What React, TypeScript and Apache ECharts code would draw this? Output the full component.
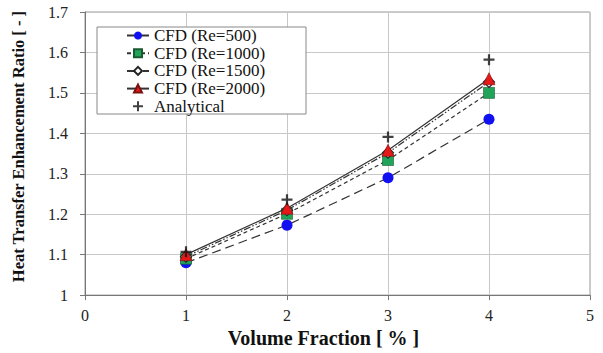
import React, { useEffect, useRef } from "react";
import * as echarts from "echarts";

const xValues = [1, 2, 3, 4];
const re500 = [1.08, 1.173, 1.29, 1.435];
const re1000 = [1.09, 1.201, 1.334, 1.5];
const re1500 = [1.095, 1.21, 1.352, 1.527];
const re2000 = [1.1, 1.215, 1.358, 1.535];
const analytical = [1.107, 1.236, 1.391, 1.582];
const seriesNames = ["CFD (Re=500)", "CFD (Re=1000)", "CFD (Re=1500)", "CFD (Re=2000)", "Analytical"];

const FONT = "'Liberation Serif', 'Times New Roman', serif";
const PLUS = "path://M4,0H6V4H10V6H6V10H4V6H0V4H4Z";

function pairs(vals: number[]) {
  return xValues.map((x, i) => [x, vals[i]]);
}

export default function App() {
  const ref = useRef<HTMLDivElement>(null);
  useEffect(() => {
    if (!ref.current) return;
    const chart = echarts.init(ref.current, undefined, { renderer: "svg" });
    const lineColor = "#333";
    chart.setOption({
      animation: false,
      backgroundColor: "#fff",
      grid: { left: 85, right: 13, top: 12, bottom: 51, show: true, borderColor: "#999", borderWidth: 1 },
      graphic: [
        {
          type: "rect",
          z: 3,
          shape: { x: 97, y: 27, width: 209, height: 87 },
          style: { fill: "#fff", stroke: "#888", lineWidth: 1 },
        },
      ],
      legend: {
        orient: "vertical",
        left: 126,
        top: 27,
        padding: 0,
        itemGap: 0.7,
        itemWidth: 22,
        itemHeight: 10,
        z: 5,
        data: seriesNames,
        textStyle: { fontFamily: FONT, fontSize: 17, color: "#111" },
      },
      xAxis: {
        type: "value",
        min: 0,
        max: 5,
        interval: 1,
        name: "Volume Fraction [ % ]",
        nameLocation: "middle",
        nameGap: 30,
        nameTextStyle: {
          fontFamily: FONT,
          fontSize: 20,
          fontWeight: "bold",
          color: "#111",
          padding: [0, 28, 0, 0],
        },
        axisLine: { lineStyle: { color: "#777" } },
        axisTick: { show: true, length: 5, lineStyle: { color: "#777" } },
        axisLabel: { fontFamily: FONT, fontSize: 16, color: "#222", margin: 12 },
        splitLine: { show: true, lineStyle: { color: "#c8c8c8" } },
      },
      yAxis: {
        type: "value",
        min: 1,
        max: 1.7,
        interval: 0.1,
        name: "Heat Transfer Enhancement Ratio [ - ]",
        nameLocation: "middle",
        nameGap: 58,
        nameTextStyle: {
          fontFamily: FONT,
          fontSize: 16.5,
          fontWeight: "bold",
          color: "#111",
          padding: [0, 0, 0, 14],
        },
        axisLine: { show: true, lineStyle: { color: "#777" } },
        axisTick: { show: true, length: 5, lineStyle: { color: "#777" } },
        axisLabel: {
          fontFamily: FONT,
          fontSize: 16,
          color: "#222",
          margin: 17,
          formatter: (v: number) => String(+v.toFixed(1)),
        },
        splitLine: { show: true, lineStyle: { color: "#c8c8c8" } },
      },
      series: [
        {
          name: seriesNames[0],
          type: "line",
          data: pairs(re500),
          symbol: "circle",
          symbolSize: 11,
          itemStyle: { color: "#1010f0" },
          lineStyle: { color: lineColor, width: 1.2, type: [9, 5] },
          z: 3,
        },
        {
          name: seriesNames[1],
          type: "line",
          data: pairs(re1000),
          symbol: "rect",
          symbolSize: 11,
          itemStyle: { color: "#1fa45a", borderColor: "#1a5a30", borderWidth: 0.6 },
          lineStyle: { color: lineColor, width: 1.2, type: [4, 3] },
          z: 4,
        },
        {
          name: seriesNames[2],
          type: "line",
          data: pairs(re1500),
          symbol: "diamond",
          symbolSize: 11,
          itemStyle: { color: "#fff", borderColor: "#222", borderWidth: 1.2 },
          lineStyle: { color: lineColor, width: 1.2, type: [7, 2, 1.5, 2, 1.5, 2] },
          z: 5,
        },
        {
          name: seriesNames[3],
          type: "line",
          data: pairs(re2000),
          symbol: "triangle",
          symbolSize: 12,
          itemStyle: { color: "#e81818", borderColor: "#7a1010", borderWidth: 0.6 },
          lineStyle: { color: lineColor, width: 1.2, type: "solid" },
          z: 6,
        },
        {
          name: seriesNames[4],
          type: "scatter",
          data: pairs(analytical),
          symbol: PLUS,
          symbolSize: 11,
          itemStyle: { color: "#111" },
          z: 7,
        },
      ],
    });
    return () => chart.dispose();
  }, []);
  return <div ref={ref} style={{ width: 603, height: 353, position: "absolute", left: 0, top: 0 }} />;
}
